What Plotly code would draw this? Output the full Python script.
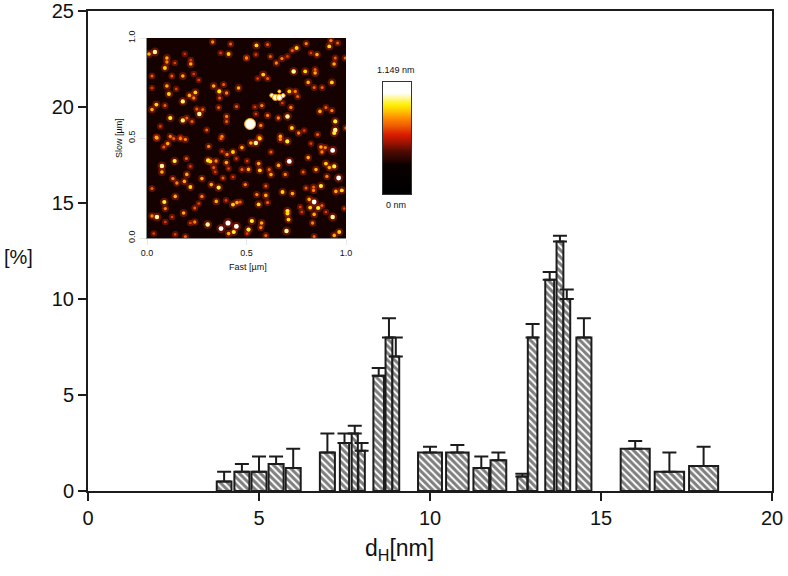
import plotly.graph_objects as go

# ---- histogram values ----
dh_nm = [3.98, 4.5, 5.0, 5.5, 6.0, 7.0, 7.5, 7.8, 8.0, 8.5, 8.8, 9.0, 10.0, 10.8, 11.5, 12.0,
         12.7, 13.0, 13.5, 13.8, 14.0, 14.5, 16.0, 17.0, 18.0]
bin_width = [0.43, 0.44, 0.44, 0.44, 0.44, 0.44, 0.27, 0.18, 0.19, 0.31, 0.2, 0.2, 0.7, 0.66, 0.46, 0.46,
             0.29, 0.28, 0.26, 0.2, 0.2, 0.44, 0.85, 0.86, 0.85]
percent = [0.5, 1.0, 1.0, 1.4, 1.2, 2.0, 2.5, 3.0, 2.1, 6.0, 8.0, 7.0, 2.0, 2.0, 1.2, 1.6,
           0.75, 8.0, 11.0, 13.0, 10.0, 8.0, 2.2, 1.0, 1.3]
error_up = [0.5, 0.4, 0.8, 0.4, 1.0, 1.0, 0.5, 0.4, 0.4, 0.4, 1.0, 1.0, 0.3, 0.4, 0.6, 0.4,
            0.15, 0.7, 0.4, 0.3, 0.5, 1.0, 0.4, 1.0, 1.0]
error_down = [0] * len(error_up)

# ---- bright grains (fast um, slow um, height level) ----
spot_fast = [.04,.01,.10,.10,.14,.09,.22,.22,.19,.33,.41,.42,.37,.50,.18,.125,.025,.235,.26,.10,.147,.11,.025,.335,.363,.40,.385,.46,.243,.213,.235,.18,.047,.025,.09,.365,.36,.45,.25,.263,.28,.117,.18,.20,.226,.40,.30,.40,.047,.117,.067,.168,.377,
             .55,.606,.50,.62,.547,.65,.678,.706,.752,.73,.80,.924,.958,.916,.854,.824,.946,.996,.94,.737,.795,.845,.845,.584,.556,.606,.81,.929,.84,.88,.715,.745,.757,.577,.542,.68,.723,.706,.606,.66,.547,.869,.899,.929,.946,.946,.941,.728,.762,.67,.572,.564,.857,.999,.79,
             .05,.104,.134,.168,.193,.084,.31,.372,.477,.432,.402,.377,.139,.198,.307,.318,.347,.399,.449,.503,.075,.075,.218,.335,.41,.477,.20,.343,.13,.188,.15,.276,.382,.432,.218,.323,.36,.494,.025,.142,.276,.348,.397,.087,.452,.432,.469,.26,.092,.24,.184,.126,.05,.025,.24,.218,.305,.372,.407,.449,.436,.41,.142,.092,.034,.193,.503,
             .522,.547,.567,.67,.705,.824,.874,.896,.933,.623,.715,.81,.899,.879,.916,.941,.561,.661,.567,.51,.614,.849,.785,.695,.623,.904,.963,.874,.597,.799,.837,.681,.837,.731,.949,.979,.552,.597,.84,.815,.561,.606,.82,.86,.879,.77,.706,.706,.84,.933,.527,.576,.711,.572,.51,.832,.701,.941,.966,.597,.84,.778,.899,.991]
spot_slow = [.93,.92,.90,.88,.875,.85,.87,.89,.92,.98,.92,.97,.925,.90,.81,.81,.81,.82,.79,.76,.745,.72,.75,.76,.733,.725,.767,.75,.728,.713,.70,.683,.667,.642,.663,.70,.653,.658,.645,.62,.642,.60,.588,.60,.583,.608,.54,.583,.503,.508,.558,.503,.508,
             .963,.967,.90,.908,.917,.875,.897,.908,.95,.937,.972,.987,.975,.958,.917,.925,.90,.90,.87,.833,.833,.825,.842,.817,.797,.797,.778,.778,.753,.753,.733,.733,.708,.662,.655,.675,.653,.608,.613,.60,.62,.633,.653,.637,.583,.54,.525,.55,.525,.508,.563,.503,.517,.55,.537,
             .50,.472,.497,.497,.493,.455,.458,.497,.452,.43,.418,.433,.385,.397,.388,.383,.385,.377,.397,.385,.36,.33,.358,.352,.347,.343,.318,.33,.297,.283,.275,.297,.30,.305,.255,.267,.252,.267,.247,.208,.208,.183,.188,.18,.177,.167,.18,.172,.147,.15,.125,.105,.105,.11,.08,.075,.067,.047,.075,.058,.03,.022,.018,.08,.022,.008,.022,
             .475,.475,.497,.493,.483,.472,.455,.452,.438,.43,.383,.402,.372,.43,.352,.358,.372,.363,.338,.343,.342,.342,.33,.318,.317,.308,.30,.26,.26,.25,.255,.23,.238,.222,.233,.238,.217,.213,.18,.193,.168,.177,.152,.15,.163,.155,.135,.122,.118,.105,.085,.075,.092,.052,.042,.075,.035,.013,.03,.013,.008,.13,.13,.147]
spot_level = [1.0,.7,.7,.6,.4,.8,.7,.4,.35,.6,.8,.5,.4,.5,.7,.5,.5,.4,.4,.7,.4,.8,.4,.7,.85,.6,.5,.7,.8,.7,.6,.95,.8,.7,.5,.5,.5,.5,.5,1.0,.5,.9,.95,.5,.5,.6,.5,.5,.7,.6,.4,.4,.6,
              .8,.5,.6,.5,.4,.6,.6,.4,.8,.5,.6,.6,.5,.8,.7,.4,.5,.5,.7,1.0,.8,.7,.5,.8,.4,.5,.7,.8,.5,.5,.8,.6,.5,.6,.4,.4,.6,1.0,.6,.6,.4,.7,.5,.6,.9,1.0,.9,.8,.6,.7,.6,.6,.5,.5,.4,
              .7,.7,.5,.6,.6,.5,.6,.5,.7,.8,.6,.4,.9,.5,.9,.8,.6,.7,.4,.4,1.0,.7,.4,.5,.4,.5,.7,.4,.6,.7,.6,.7,.5,.4,.8,.7,.9,.6,.5,.7,.6,.7,.4,.9,.7,.8,.5,.4,.6,.5,.7,.4,1.0,.6,.6,.4,1.0,1.1,1.2,1.1,.9,.7,.4,.4,.4,.5,.4,
              .7,1.0,.8,.6,.9,.4,.7,.6,1.1,.5,1.1,.7,.8,.6,.7,.9,.7,.7,.8,.7,.5,.7,.5,.6,.7,.6,1.1,.9,.5,.5,.5,.8,.6,.7,.7,.8,.6,.7,1.1,.7,.8,.5,.8,.9,.5,.4,.9,.8,.7,1.0,.9,.7,.8,.6,.9,.6,1.0,.7,.8,.5,.5,.4,.4,.4]

# large features of the scan: the round particle and the star-shaped one
blob_fast = [.518, .627, .645, .665, .684, .665]
blob_slow = [.57, .713, .703, .703, .712, .733]
blob_size = [11, 4, 6, 6, 4, 3]

# dark ground of the scan
ground_fast = [0, 1]
ground_slow = [0, 1]
ground_level = [[.27, .27], [.27, .27]]

height_stops = [[0, "#000000"], [.25, "#0a0000"], [.37, "#4a0a00"], [.53, "#d81a00"], [.69, "#ff8c00"],
                [.81, "#ffee00"], [.93, "#ffffff"], [1, "#ffffff"]]
scale_levels = [[.00], [.05], [.10], [.15], [.20], [.25], [.30], [.35], [.40], [.45], [.50], [.55], [.60], [.65],
                [.70], [.75], [.80], [.85], [.90], [.95], [1.0]]

INK = "#1c1c1c"
W, H = 788, 576
def fx(p): return p / W
def fy(p): return 1 - p / H

fig = go.Figure()

fig.add_trace(go.Bar(
    x=dh_nm, y=percent, width=bin_width,
    marker=dict(color="white", line=dict(color=INK, width=2),
                pattern=dict(shape="\\", size=5, solidity=0.6, fgcolor="#000000", bgcolor="white")),
    error_y=dict(type="data", symmetric=False, array=error_up, arrayminus=error_down,
                 color=INK, thickness=2, width=7),
    showlegend=False, hoverinfo="skip"))

# inset scan
fig.add_trace(go.Heatmap(
    x=ground_fast, y=ground_slow, z=ground_level, xaxis="x2", yaxis="y2", colorscale=height_stops,
    zmin=0, zmax=1, showscale=False, hoverinfo="skip", zsmooth="best"))
fig.add_trace(go.Scatter(
    x=spot_fast, y=spot_slow, mode="markers", xaxis="x2", yaxis="y2", showlegend=False, hoverinfo="skip",
    marker=dict(color="#a82000", opacity=.5, size=[5 + 4 * v for v in spot_level], line=dict(width=0))))
fig.add_trace(go.Scatter(
    x=spot_fast, y=spot_slow, mode="markers", xaxis="x2", yaxis="y2", showlegend=False, hoverinfo="skip",
    marker=dict(color=[.38 + .5 * v for v in spot_level], colorscale=height_stops, cmin=0, cmax=1, opacity=1,
                size=[1.5 + 3 * v for v in spot_level], line=dict(width=0), showscale=False)))
fig.add_trace(go.Scatter(
    x=blob_fast, y=blob_slow, mode="markers", xaxis="x2", yaxis="y2", showlegend=False, hoverinfo="skip",
    marker=dict(color="#fffdf0", size=blob_size, opacity=1, line=dict(color="#ffa000", width=1))))

# inset height scale
fig.add_trace(go.Heatmap(
    z=scale_levels, xaxis="x3", yaxis="y3", colorscale=height_stops, zmin=0, zmax=1,
    showscale=False, hoverinfo="skip", zsmooth="best"))

family = "Liberation Sans, Arial, sans-serif"
axis_font = dict(family=family, size=20, color="#111111")
small_font = dict(family=family, size=9, color="#111111")

def note(text, px, py, font, angle=0):
    return dict(text=text, xref="paper", yref="paper", x=fx(px), y=fy(py), xanchor="center", yanchor="middle",
                showarrow=False, font=font, textangle=angle)

fig.update_layout(
    width=W, height=H, margin=dict(l=0, r=0, t=0, b=0, pad=0),
    paper_bgcolor="white", plot_bgcolor="white", barmode="overlay", showlegend=False,
    font=axis_font,
    xaxis=dict(domain=[fx(88), fx(772)], range=[0, 20], tickvals=[0, 5, 10, 15, 20], ticks="outside",
               ticklen=8, tickwidth=2, tickcolor=INK, linecolor=INK, linewidth=2, mirror=True, automargin=False,
               showgrid=False, zeroline=False, tickfont=axis_font, anchor="y"),
    yaxis=dict(domain=[fy(491), fy(11)], range=[0, 25], tickvals=[0, 5, 10, 15, 20, 25], ticks="outside",
               ticklen=8, tickwidth=2, tickcolor=INK, linecolor=INK, linewidth=2, mirror=True, automargin=False,
               showgrid=False, zeroline=False, tickfont=axis_font, anchor="x"),
    xaxis2=dict(domain=[fx(147), fx(346)], range=[0, 1], tickvals=[0, .5, 1], tickformat=".1f", ticks="outside",
                ticklen=6, tickwidth=1, tickcolor="#e8e8e8", linecolor="#888", linewidth=1, showgrid=False,
                zeroline=False, tickfont=small_font, anchor="y2", automargin=False),
    yaxis2=dict(domain=[fy(238), fy(38)], range=[0, 1], tickvals=[0, .5, 1], tickformat=".1f", ticks="outside",
                ticklen=7, tickwidth=1, tickcolor="#e8e8e8", linecolor="#888", linewidth=1, showgrid=False,
                zeroline=False, tickfont=small_font, tickangle=-90, anchor="x2", automargin=False),
    xaxis3=dict(domain=[fx(383), fx(411)], showticklabels=False, ticks="", showgrid=False, zeroline=False,
                linecolor="#333", linewidth=1, mirror=True, anchor="y3", automargin=False),
    yaxis3=dict(domain=[fy(194), fy(82)], showticklabels=False, ticks="", showgrid=False, zeroline=False,
                linecolor="#333", linewidth=1, mirror=True, anchor="x3", automargin=False),
    annotations=[
        note("[%]", 18, 257, dict(family=family, size=20, color="#111111")),
        note("d<sub>H</sub>[nm]", 399, 549, dict(family=family, size=23, color="#111111")),
        note("Fast [µm]", 248, 267, small_font),
        note("Slow [µm]", 119, 138, small_font, -90),
        note("1.149 nm", 396, 70, small_font),
        note("0 nm", 396, 205, small_font),
    ],
)

fig.write_html("out.html", config=dict(displayModeBar=False),
               post_script="document.body.style.margin='0';")
